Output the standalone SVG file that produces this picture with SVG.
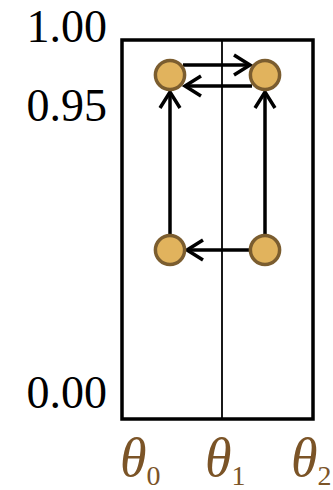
<svg xmlns="http://www.w3.org/2000/svg" width="333" height="490" viewBox="0 0 333 490">
<style>
.lbl{font-family:"Liberation Serif","Times New Roman",serif;font-size:46px;fill:#000}
.th{font-family:"Liberation Serif","Times New Roman",serif;fill:#7b5427}
.node{fill:#e1b35d;stroke:#7b5d2f;stroke-width:3.5}
.conn{stroke:#000;stroke-width:3.5;fill:none;marker-end:url(#arr)}
</style>
<defs>
<marker id="arr" markerUnits="userSpaceOnUse" viewBox="-20 -12 24 24" refX="0" refY="0" markerWidth="24" markerHeight="24" orient="auto">
<path d="M-16,-10 L0,0 L-16,10" fill="none" stroke="#000" stroke-width="3.5"/>
</marker>
</defs>
<rect x="0" y="0" width="333" height="490" fill="#fff"/>
<g id="frame">
<rect x="122" y="40" width="191" height="379" fill="none" stroke="#000" stroke-width="3.5"/>
<line x1="222" y1="40" x2="222" y2="419" stroke="#000" stroke-width="1.8"/>
</g>
<g id="ylabels">
<text class="lbl" x="107" y="42" text-anchor="end">1.00</text>
<text class="lbl" x="107" y="121" text-anchor="end">0.95</text>
<text class="lbl" x="107" y="408" text-anchor="end">0.00</text>
</g>
<g id="xlabels">
<text class="th" x="120" y="476"><tspan font-size="54" font-style="italic">θ</tspan><tspan font-size="28" dy="9">0</tspan></text>
<text class="th" x="205" y="476"><tspan font-size="54" font-style="italic">θ</tspan><tspan font-size="28" dy="9">1</tspan></text>
<text class="th" x="291" y="476"><tspan font-size="54" font-style="italic">θ</tspan><tspan font-size="28" dy="9">2</tspan></text>
</g>
<g id="connectors">
<line class="conn" x1="183" y1="65" x2="250" y2="65"/>
<line class="conn" x1="252" y1="86" x2="185" y2="86"/>
<line class="conn" x1="170" y1="234" x2="170" y2="92"/>
<line class="conn" x1="265" y1="234" x2="265" y2="92"/>
<line class="conn" x1="249" y1="250" x2="187" y2="250"/>
</g>
<g id="n_tl"><circle class="node" cx="170" cy="75" r="14.6"/></g>
<g id="n_tr"><circle class="node" cx="265" cy="75" r="14.6"/></g>
<g id="n_bl"><circle class="node" cx="170" cy="250" r="14.6"/></g>
<g id="n_br"><circle class="node" cx="265" cy="250" r="14.6"/></g>
</svg>
